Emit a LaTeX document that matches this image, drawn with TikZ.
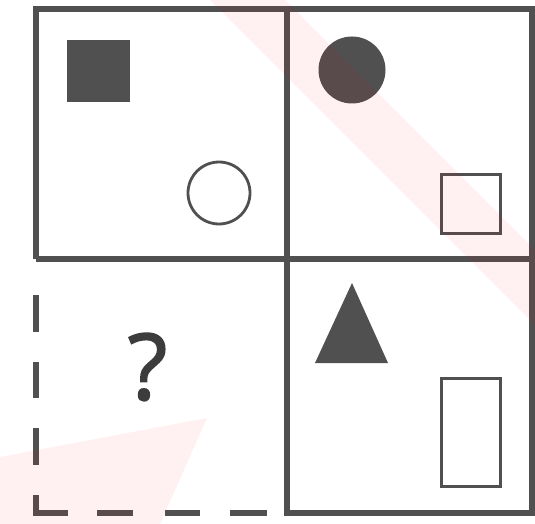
\documentclass[tikz,border=0pt]{standalone}
\usepackage{fontspec}
\setmainfont{Open Sans}
\definecolor{ink}{RGB}{80,80,80}
\definecolor{qink}{RGB}{60,60,60}
\begin{document}
\begin{tikzpicture}[x=1pt,y=-1pt,
  frame/.style={draw=ink,line width=6pt},
  dashseg/.style={draw=ink,line width=6pt,line cap=butt},
  solidshape/.style={fill=ink},
  outlineshape/.style={draw=ink,line width=2.8pt},
  wm/.style={fill=red,fill opacity=0.055}]
\useasboundingbox (0,0) rectangle (535,524);
\fill[white] (0,0) rectangle (535,524);
% frame
\draw[frame,line join=miter] (36,513) -- (532,513) -- (532,9.5) -- (36,9.5) -- (36,259);
\draw[frame] (287,513) -- (287,9.5);
\draw[frame] (36,259) -- (532,259);
\fill[white] (30,264) rectangle (284,520);
\draw[frame] (287,513) -- (287,259);
\draw[frame] (36,259) -- (287,259);
% dashed left cell
\draw[dashseg] (36,295) -- (36,332);
\draw[dashseg] (36,362) -- (36,398);
\draw[dashseg] (36,428) -- (36,465);
\draw[dashseg,line join=miter] (36,495) -- (36,513) -- (68,513);
\draw[dashseg] (97,513) -- (133,513);
\draw[dashseg] (165,513) -- (200,513);
\draw[dashseg] (230,513) -- (267,513);
% cell 1
\fill[solidshape] (67,40) rectangle (130,102);
\draw[outlineshape] (219,193) circle (31);
% cell 2
\fill[solidshape] (352,70) circle (33.5);
\draw[outlineshape] (441.5,174.5) rectangle (500.5,233.5);
% cell 4
\fill[solidshape] (352,283) -- (388,363) -- (315,363) -- cycle;
\draw[outlineshape] (441.5,378.5) rectangle (500.5,486.5);
% question mark
\node[text=qink,font=\fontsize{92}{92}\selectfont\addfontfeature{FakeBold=1.6},inner sep=0pt] (q) at (147.5,367) {?};
% watermark
\fill[wm] (210,0) -- (285,0) -- (535,250) -- (535,325) -- cycle;
\fill[wm] (0,457) -- (207,418) -- (160,524) -- (0,524) -- cycle;
\end{tikzpicture}
\end{document}
